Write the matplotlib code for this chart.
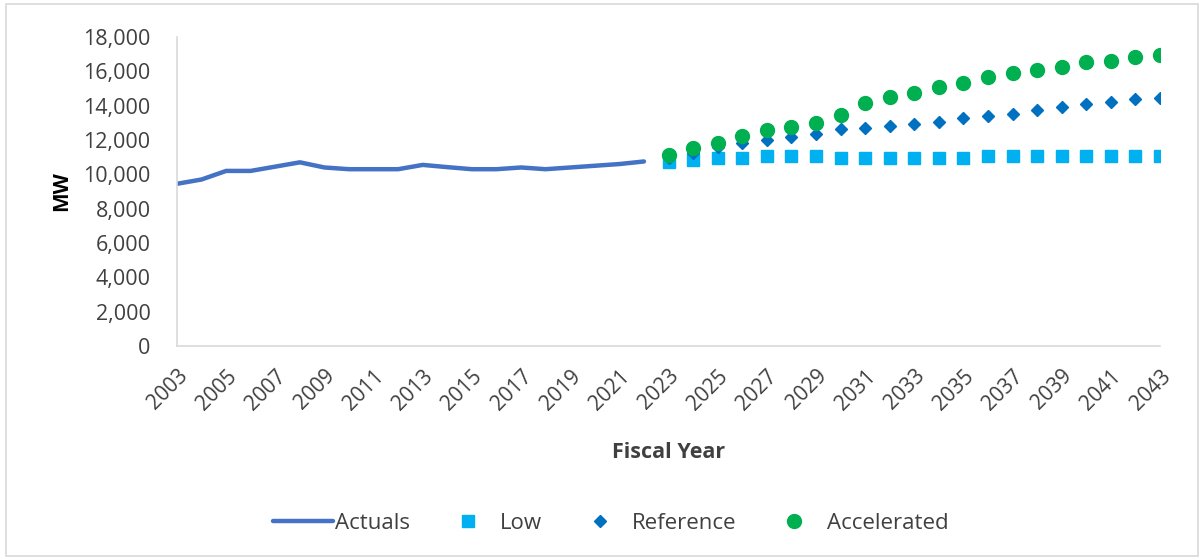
import matplotlib
matplotlib.use("Agg")
import matplotlib.pyplot as plt
from matplotlib.patches import Rectangle
from matplotlib.ticker import FuncFormatter, MultipleLocator

actual_years = list(range(2003, 2023))
actuals = [9450, 9700, 10200, 10200, 10450, 10700, 10400, 10300, 10300, 10300,
           10550, 10420, 10300, 10300, 10400, 10300, 10400, 10500, 10600, 10750]

fc_years = list(range(2023, 2044))
low = [10740, 10830, 10930, 10930, 11070, 11070, 11070, 10930, 10930, 10930, 10930,
       10930, 10930, 11070, 11070, 11070, 11070, 11070, 11070, 11070, 11070]
reference = [10950, 11220, 11610, 11800, 12000, 12190, 12350, 12620, 12680, 12810, 12910,
             13070, 13260, 13400, 13510, 13750, 13900, 14100, 14230, 14370, 14470]
accelerated = [11120, 11510, 11840, 12230, 12580, 12780, 13010, 13460, 14170, 14520, 14760,
               15110, 15340, 15690, 15920, 16080, 16270, 16560, 16620, 16850, 16950]

tick_years = list(range(2003, 2044, 2))

plt.rcParams['font.family'] = ['Open Sans', 'DejaVu Sans']
txt = '#404040'

fig = plt.figure(figsize=(12.04, 5.6), dpi=100)
ax = fig.add_axes([0.147, 0.382, 0.8165, 0.552])

ax.plot(actual_years, actuals, color='#4472C4', lw=3.2, label='Actuals', solid_capstyle='round')
ax.plot(fc_years, low, ls='none', marker='s', ms=8.5, color='#00B0F0', label='Low')
ax.plot(fc_years, reference, ls='none', marker='D', ms=6.5, color='#0070C0', label='Reference')
ax.plot(fc_years, accelerated, ls='none', marker='o', ms=10, color='#00B050', label='Accelerated')

ax.set_xlim(2003, 2043)
ax.set_ylim(0, 18000)
ax.yaxis.set_major_locator(MultipleLocator(2000))
ax.yaxis.set_major_formatter(FuncFormatter(lambda v, p: f"{int(v):,}"))
ax.set_xticks(tick_years)
ax.set_xticklabels([str(y) for y in tick_years], rotation=45, ha='right',
                   rotation_mode='anchor', fontsize=15, color=txt)
ax.tick_params(axis='y', labelsize=15.5, labelcolor=txt, length=0, pad=19)
ax.tick_params(axis='x', length=0, pad=14)

for s in ['top', 'right']:
    ax.spines[s].set_visible(False)
for s in ['left', 'bottom']:
    ax.spines[s].set_color('#D9D9D9')
    ax.spines[s].set_linewidth(1.2)

ax.set_ylabel('MW', fontsize=15, fontweight='bold', color='black', labelpad=8)
ax.set_xlabel('Fiscal Year', fontsize=15.5, fontweight='bold', color=txt, labelpad=20)

leg = fig.legend(loc='center', bbox_to_anchor=(0.507, 0.066), ncol=4, frameon=False,
                 fontsize=16, handlelength=2.7, columnspacing=1.25, handletextpad=0.1)
for t in leg.get_texts():
    t.set_color(txt)

fig.patches.append(Rectangle((0.005, 0.008), 0.99, 0.984, transform=fig.transFigure,
                             fill=False, edgecolor='#D9D9D9', lw=1.2))

fig.savefig('out.png', dpi=100)
